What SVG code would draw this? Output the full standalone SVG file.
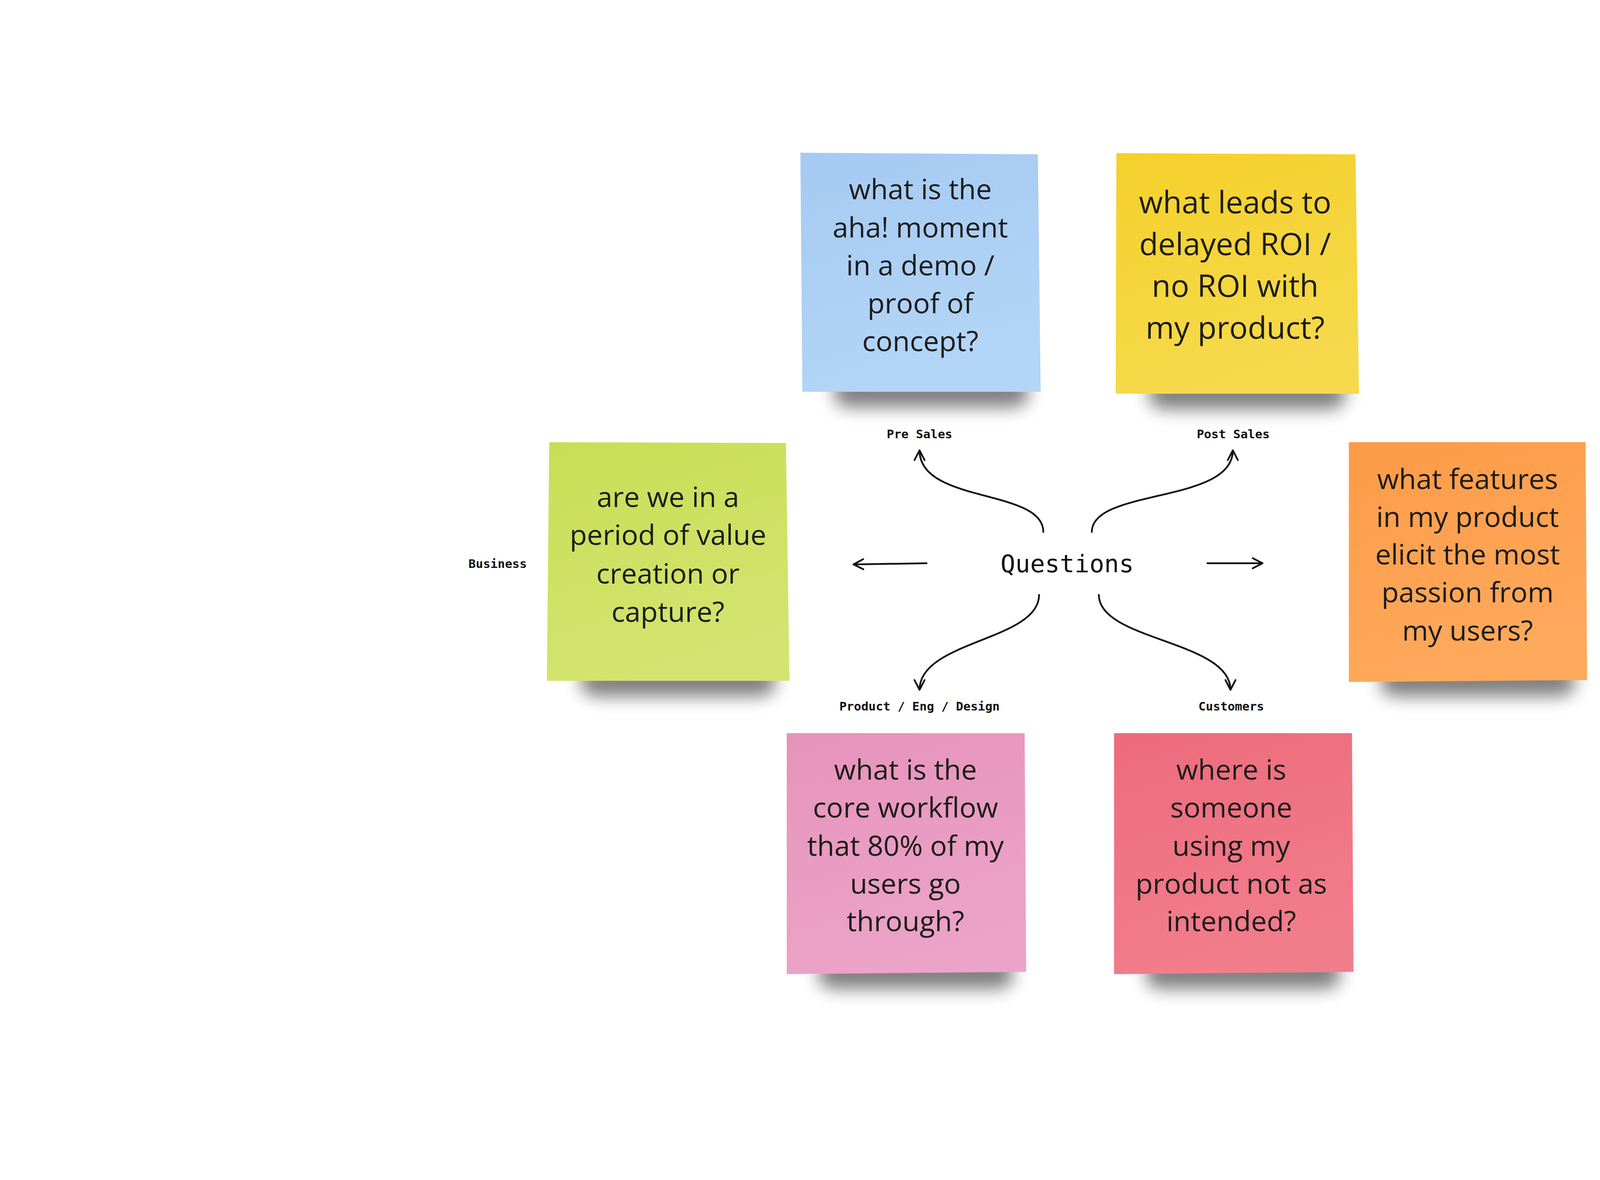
<svg xmlns="http://www.w3.org/2000/svg" width="5295" height="3021" viewBox="0 0 5295 3021">
<style>
.note{font-family:"Open Sans","Noto Sans","Liberation Sans",sans-serif;fill:#1c1c1c;text-anchor:middle}
.n70{font-size:72px}
.n77{font-size:79px}
.lbl{font-family:"DejaVu Sans Mono","Liberation Mono",monospace;font-weight:bold;font-size:31px;fill:#111;text-anchor:middle}
.center{font-family:"DejaVu Sans Mono","Liberation Mono",monospace;font-size:63px;fill:#111;text-anchor:middle}
.conn{fill:none;stroke:#111;stroke-width:4.5;stroke-linecap:round;marker-end:url(#ah)}
.shadow{fill:#000;opacity:0.5;filter:url(#blur)}
</style>
<defs>
<filter id="blur" x="-30%" y="-100%" width="160%" height="300%"><feGaussianBlur stdDeviation="22"/></filter>
<marker id="ah" viewBox="-30 -20 40 40" markerWidth="40" markerHeight="40" refX="0" refY="0" orient="auto" markerUnits="userSpaceOnUse"><path d="M-25,-13 L0,0 L-25,13" fill="none" stroke="#111" stroke-width="4.5" stroke-linecap="round" stroke-linejoin="round"/></marker>
<linearGradient id="gBlue" x1="0" y1="0" x2="0.3" y2="1"><stop offset="0" stop-color="#a5caf2"/><stop offset="1" stop-color="#b3d5f6"/></linearGradient>
<linearGradient id="gYellow" x1="0" y1="0" x2="0.3" y2="1"><stop offset="0" stop-color="#f4d02a"/><stop offset="1" stop-color="#f6da4c"/></linearGradient>
<linearGradient id="gGreen" x1="0" y1="0" x2="0.3" y2="1"><stop offset="0" stop-color="#c8de55"/><stop offset="1" stop-color="#d3e470"/></linearGradient>
<linearGradient id="gOrange" x1="0" y1="0" x2="0.3" y2="1"><stop offset="0" stop-color="#fd9b47"/><stop offset="1" stop-color="#ffa95c"/></linearGradient>
<linearGradient id="gPink" x1="0" y1="0" x2="0.3" y2="1"><stop offset="0" stop-color="#e693bb"/><stop offset="1" stop-color="#eca3c8"/></linearGradient>
<linearGradient id="gRed" x1="0" y1="0" x2="0.3" y2="1"><stop offset="0" stop-color="#ec6b7d"/><stop offset="1" stop-color="#f27d8b"/></linearGradient>
</defs>
<rect width="5295" height="3021" fill="#ffffff"/>

<g id="connectors">
<path class="conn" d="M2671,1362 C2671,1250 2354,1290 2354,1153"/>
<path class="conn" d="M2795,1362 C2795,1250 3156,1290 3156,1153"/>
<path class="conn" d="M2372,1442 L2185,1445"/>
<path class="conn" d="M3091,1442 L3232,1442"/>
<path class="conn" d="M2660,1523 C2660,1640 2354,1640 2354,1766"/>
<path class="conn" d="M2813,1523 C2813,1640 3150,1640 3150,1766"/>
</g>

<g id="questions"><text class="center" x="2732" y="1465">Questions</text></g>

<g id="label-presales"><text class="lbl" x="2354" y="1122">Pre Sales</text></g>
<g id="label-postsales"><text class="lbl" x="3157" y="1122">Post Sales</text></g>
<g id="label-business"><text class="lbl" x="1274" y="1454">Business</text></g>
<g id="label-marketing"><text class="lbl" x="4192" y="1454">Marketing</text></g>
<g id="label-product"><text class="lbl" x="2354" y="1819">Product / Eng / Design</text></g>
<g id="label-customers"><text class="lbl" x="3152" y="1819">Customers</text></g>

<g id="note-blue">
<rect class="shadow" x="2134" y="963" width="500" height="80" rx="38"/>
<polygon points="2049,391 2657,395 2664,1003 2054,1003" fill="url(#gBlue)"/>
<text class="note n70" x="2356"><tspan x="2356" y="510">what is the</tspan><tspan x="2356" y="608">aha! moment</tspan><tspan x="2356" y="705">in a demo /</tspan><tspan x="2356" y="802">proof of</tspan><tspan x="2356" y="899">concept?</tspan></text>
</g>

<g id="note-yellow">
<rect class="shadow" x="2940" y="968" width="505" height="80" rx="38"/>
<polygon points="2858,392 3470,395 3479,1008 2856,1008" fill="url(#gYellow)"/>
<text class="note n77" x="3162"><tspan x="3162" y="546">what leads to</tspan><tspan x="3162" y="653">delayed ROI /</tspan><tspan x="3162" y="760">no ROI with</tspan><tspan x="3162" y="867">my product?</tspan></text>
</g>

<g id="note-green">
<rect class="shadow" x="1486" y="1703" width="500" height="80" rx="38"/>
<polygon points="1406,1132 2012,1134 2021,1743 1400,1743" fill="url(#gGreen)"/>
<text class="note n70" x="1710"><tspan x="1710" y="1298">are we in a</tspan><tspan x="1710" y="1395">period of value</tspan><tspan x="1710" y="1494">creation or</tspan><tspan x="1710" y="1592">capture?</tspan></text>
</g>

<g id="note-orange">
<rect class="shadow" x="3533" y="1703" width="500" height="80" rx="38"/>
<polygon points="3453,1132 4059,1132 4063,1741 3453,1746" fill="url(#gOrange)"/>
<text class="note n70" x="3757"><tspan x="3757" y="1252">what features</tspan><tspan x="3757" y="1349">in my product</tspan><tspan x="3757" y="1445">elicit the most</tspan><tspan x="3757" y="1542">passion from</tspan><tspan x="3757" y="1640">my users?</tspan></text>
</g>

<g id="note-pink">
<rect class="shadow" x="2094" y="2452" width="500" height="80" rx="38"/>
<polygon points="2014,1877 2623,1877 2627,2488 2014,2494" fill="url(#gPink)"/>
<text class="note n70" x="2318"><tspan x="2318" y="1996">what is the</tspan><tspan x="2318" y="2093">core workflow</tspan><tspan x="2318" y="2191">that 80% of my</tspan><tspan x="2318" y="2288">users go</tspan><tspan x="2318" y="2384">through?</tspan></text>
</g>

<g id="note-red">
<rect class="shadow" x="2932" y="2452" width="500" height="80" rx="38"/>
<polygon points="2852,1877 3461,1877 3465,2488 2852,2494" fill="url(#gRed)"/>
<text class="note n70" x="3152"><tspan x="3152" y="1996">where is</tspan><tspan x="3152" y="2093">someone</tspan><tspan x="3152" y="2191">using my</tspan><tspan x="3152" y="2288">product not as</tspan><tspan x="3152" y="2384">intended?</tspan></text>
</g>
</svg>
